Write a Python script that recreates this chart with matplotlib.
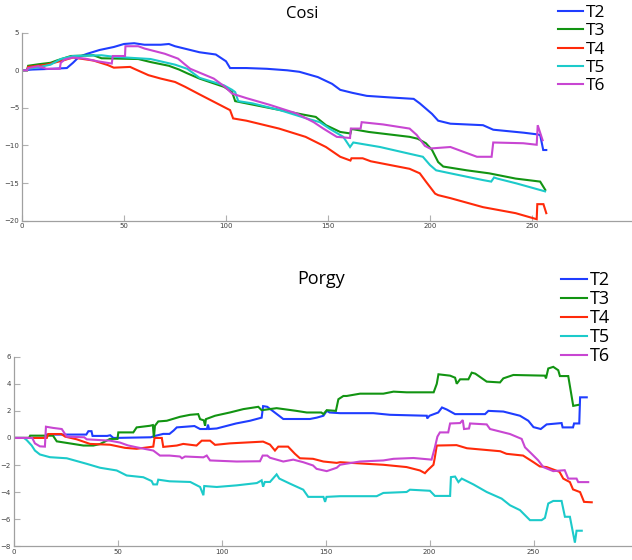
import matplotlib
matplotlib.use("Agg")
import matplotlib.pyplot as plt

# ---- Cosi: breakpoints (x, y) ----
cosi_t2 = [(0, 0), (5, 0.1), (15, 0.2), (22, 0.3), (25, 1.0), (28, 1.8), (32, 2.2), (38, 2.7), (45, 3.1),
           (50, 3.5), (55, 3.6), (60, 3.4), (68, 3.4), (72, 3.5), (75, 3.2), (81, 2.8), (87, 2.4), (95, 2.1),
           (100, 1.2), (102, 0.3), (110, 0.3), (120, 0.2), (130, 0.0), (136, -0.2), (145, -0.9), (152, -1.8),
           (156, -2.6), (162, -3.0), (169, -3.4), (180, -3.6), (192, -3.8), (195, -4.4), (201, -5.8),
           (204, -6.7), (210, -7.1), (226, -7.3), (231, -7.9), (246, -8.3), (252, -8.5), (254, -8.6),
           (255.5, -10.6), (257, -10.6)]
cosi_t3 = [(0, 0), (2.5, 0), (3, 0.6), (8, 0.8), (14, 1.0), (17, 1.3), (24, 1.9), (35, 2.0), (39, 1.6),
           (57, 1.5), (63, 1.1), (72, 0.6), (77, 0.1), (81, -0.4), (87, -1.1), (99, -2.2), (103, -2.9),
           (104.5, -4.1), (110, -4.4), (123, -5.1), (138, -5.9), (144, -6.2), (149, -7.3), (156, -8.2),
           (161, -8.4), (161.5, -7.8), (170, -8.2), (190, -8.85), (194, -9.1), (198, -9.7), (201, -10.6),
           (204, -12.2), (206.5, -12.8), (218, -13.3), (229, -13.7), (242, -14.4), (254, -14.8), (256.5, -15.9)]
cosi_t4 = [(0, 0), (2.5, 0), (3, 0.45), (12, 0.75), (20, 1.3), (25, 1.7), (30, 1.5), (35, 1.3), (42, 0.7),
           (45, 0.35), (53, 0.45), (55, 0.2), (62, -0.65), (68, -1.1), (75, -1.55), (80, -2.2), (87, -3.2),
           (97, -4.6), (102, -5.3), (103.5, -6.4), (110, -6.7), (126, -7.75), (139, -8.85), (149, -10.2),
           (156, -11.5), (161, -12.0), (161.5, -11.7), (167, -11.7), (171, -12.1), (190, -13.1), (195, -13.7),
           (198, -14.8), (202.5, -16.4), (204, -16.6), (210, -17.0), (226, -18.2), (242, -19.0),
           (252.3, -19.8), (252.6, -17.8), (255.6, -17.8), (257, -19.0)]
cosi_t5 = [(0, 0), (2.5, 0), (3, 0.2), (8, 0.4), (14, 0.75), (19, 1.5), (25, 1.9), (39, 2.0), (45, 1.8),
           (63, 1.5), (75, 0.75), (81, 0.2), (87, -1.0), (99, -2.0), (103, -2.6), (104.5, -2.9), (106, -4.1),
           (113, -4.4), (126.5, -5.3), (139.5, -6.4), (146, -6.9), (151, -7.8), (157.5, -8.85),
           (160.8, -10.2), (162.4, -9.6), (175.5, -10.2), (190, -11.1), (196.5, -11.5), (200, -12.6),
           (203, -13.3), (210, -13.7), (226, -14.6), (230, -14.8), (231.4, -14.25), (233, -14.4),
           (242.5, -15.05), (256.4, -16.1)]
cosi_t6 = [(0, 0), (2.5, 0), (3, 0.3), (8, 0.55), (11, 0.3), (12, 0.2), (18.5, 0.2), (19, 1.0), (21, 1.45),
           (25, 1.7), (31, 1.55), (37, 1.2), (44, 0.9), (44.5, 1.9), (50.5, 1.9), (50.7, 3.2), (57, 3.2),
           (60, 2.9), (70, 2.2), (76.5, 1.55), (80, 0.75), (82.5, 0.2), (94, -1.1), (99.5, -2.2), (103, -3.1),
           (110, -3.7), (121.5, -4.6), (134.7, -5.75), (143, -6.9), (147.7, -7.75), (154.3, -8.85),
           (160.8, -9.0), (161.2, -7.75), (166, -7.75), (166.5, -6.9), (177, -7.2), (190, -7.75),
           (193.5, -8.6), (197.5, -10.05), (200, -10.4), (210, -10.2), (223, -11.5), (230.2, -11.5),
           (231, -9.6), (245.7, -9.7), (252.3, -9.9), (252.8, -7.3), (255.2, -9.3)]

# ---- Porgy ----
porgy_t2 = [(0, 0), (15, 0), (16, 0.25), (35, 0.25), (36, 0.5), (37.5, 0.5), (38, 0.15), (45, 0.15),
            (46.5, 0.2), (48, 0.0), (66, 0.05), (68, 0.15), (72, 0.3), (75, 0.3), (77, 0.55), (78.5, 0.78),
            (87, 0.88), (89.7, 0.66), (93, 0.66), (93.5, 0.98), (94, 0.66), (97.7, 0.7), (107, 1.07),
            (113.7, 1.27), (119.3, 1.5), (120, 2.35), (122, 2.3), (125, 1.95), (129.7, 1.4), (142.5, 1.4),
            (145.8, 1.5), (149, 1.64), (150.6, 2.0), (152, 1.88), (157, 1.83), (173, 1.83), (181, 1.71),
            (198.7, 1.64), (198.9, 1.44), (200, 1.64), (204.2, 1.88), (206, 2.25), (208.3, 2.1),
            (212.3, 1.76), (226.7, 1.76), (228.3, 2.0), (235.5, 1.95), (243.5, 1.64), (247.5, 1.27),
            (250, 0.8), (253.5, 0.66), (256.3, 1.0), (263.5, 1.1), (264, 0.78), (269, 0.78), (269.5, 1.07),
            (272, 1.07), (272.4, 3.0), (275.6, 3.0)]
porgy_t3 = [(0, 0), (7.5, 0), (8, 0.17), (19, 0.17), (20.8, -0.25), (27, -0.4), (33.6, -0.56), (38.4, -0.56),
            (41.6, -0.45), (46.4, -0.07), (50, -0.07), (50.4, 0.41), (57.6, 0.41), (59.2, 0.78), (65.6, 0.9),
            (67, 0.95), (67.5, 0.0), (68, 0.9), (69.6, 1.22), (73.7, 1.27), (80, 1.56), (84.9, 1.71),
            (88.8, 1.76), (89.7, 1.39), (91.5, 1.3), (92.1, 0.9), (92.5, 1.39), (96.9, 1.64), (104, 1.88),
            (110.5, 2.13), (117.7, 2.3), (119.3, 2.05), (126.5, 2.2), (136, 2.0), (141, 1.88), (148, 1.88),
            (149, 1.76), (150.6, 2.05), (155, 2.0), (156.2, 2.86), (158.6, 3.1), (160.2, 3.1), (166.6, 3.27),
            (177.8, 3.27), (182.7, 3.42), (189, 3.37), (202, 3.37), (203.5, 4.0), (204.3, 4.7), (209.9, 4.6),
            (212.3, 4.45), (213.1, 4.0), (214.7, 4.33), (218.7, 4.33), (220.3, 4.82), (222, 4.75),
            (227.5, 4.16), (233.9, 4.1), (235.5, 4.4), (240.3, 4.65), (255.5, 4.6), (256, 4.4), (257.1, 5.13),
            (259.5, 5.25), (261.9, 5.0), (262.7, 4.57), (266.7, 4.57), (269.1, 2.37), (271.5, 2.44)]
porgy_t4 = [(0, 0), (16, 0), (16.7, 0.29), (23, 0.29), (24.8, 0.1), (30.4, -0.1), (36.8, -0.44), (46.4, -0.5),
            (53.6, -0.73), (59.2, -0.8), (67.2, -0.64), (67.8, 0.0), (71.3, 0.0), (72, -0.66), (78.5, -0.56),
            (81.6, -0.44), (88, -0.56), (90.5, -0.2), (94.5, -0.2), (96.9, -0.51), (104, -0.4), (120, -0.27),
            (123.3, -0.49), (125.7, -0.93), (127.3, -0.64), (132, -0.64), (135.3, -1.17), (137.7, -1.5),
            (144, -1.54), (149, -1.74), (155.4, -1.84), (157, -1.79), (169.8, -1.91), (177.8, -1.98),
            (189, -2.15), (195.4, -2.4), (197.8, -2.6), (199, -2.4), (201.9, -1.98), (202.5, -1.5),
            (203.5, -0.56), (213, -0.53), (218, -0.76), (234, -0.98), (237, -1.17), (245, -1.3), (250, -1.79),
            (253, -2.1), (256.3, -2.15), (262.5, -2.5), (264.3, -3.0), (267.5, -3.26), (269, -3.8),
            (272.4, -4.0), (274.3, -4.72), (278, -4.75)]
porgy_t5 = [(0, 0), (5, 0), (6.3, -0.15), (8.75, -0.56), (10.3, -0.93), (12.7, -1.22), (17.5, -1.42),
            (25.6, -1.5), (35.2, -1.91), (41.6, -2.2), (49.6, -2.4), (54.4, -2.77), (62.4, -2.9), (66.4, -3.18),
            (67.2, -3.43), (69, -3.43), (69.6, -3.08), (75, -3.2), (85, -3.25), (89.7, -3.62), (91.3, -4.23),
            (91.7, -3.55), (97.7, -3.62), (107.3, -3.5), (117, -3.33), (119.3, -3.13), (120, -3.6),
            (120.8, -3.25), (123.3, -3.25), (126.5, -2.69), (127.8, -3.0), (133, -3.38), (139.3, -3.82),
            (141.7, -4.35), (149, -4.35), (149.8, -4.72), (150.5, -4.35), (157, -4.3), (174.6, -4.3),
            (177.8, -4.06), (189, -3.99), (190.6, -3.82), (200.2, -3.9), (202.6, -4.28), (209.9, -4.28),
            (210.3, -2.89), (212.3, -2.85), (213.9, -3.26), (215.5, -3.0), (221.1, -3.43), (227.5, -3.99),
            (234.7, -4.48), (238.7, -4.97), (243.5, -5.33), (248.3, -6.07), (253.9, -6.07), (255.5, -5.9),
            (257.1, -4.84), (259.5, -4.65), (263.5, -4.65), (265.1, -5.82), (267.5, -5.82), (269.9, -7.73),
            (270.7, -6.85), (273.2, -6.85)]
porgy_t6 = [(0, 0), (9, 0), (10.3, -0.4), (12.7, -0.62), (15.1, -0.64), (15.6, 0.83), (19.1, 0.74),
            (23.2, 0.66), (25.6, 0.1), (34, 0.05), (35.2, -0.1), (46.4, -0.2), (51.2, -0.34), (55, -0.55),
            (59.2, -0.69), (67.2, -0.93), (70.4, -1.3), (75, -1.3), (80, -1.37), (81, -1.5), (82.5, -1.37),
            (91.3, -1.43), (92.9, -1.3), (94.5, -1.66), (107.3, -1.74), (118.5, -1.72), (119.8, -1.3),
            (122, -1.3), (123.3, -1.46), (129.7, -1.74), (134.5, -1.6), (139.3, -1.79), (144, -2.03),
            (145.7, -2.28), (150.6, -2.45), (155.4, -2.2), (157, -1.98), (160, -1.9), (166.6, -1.74),
            (177.8, -1.66), (182.7, -1.54), (192.3, -1.48), (201, -1.6), (202.6, -0.69), (203.8, 0.1),
            (205, 0.41), (209, 0.41), (209.9, 1.07), (214.7, 1.1), (216, 1.32), (216.6, 0.66), (219, 0.7),
            (219.5, 1.07), (227.5, 1.0), (229.1, 0.66), (238.7, 0.29), (244.3, -0.07), (245.9, -0.69),
            (249.1, -1.17), (252.3, -1.66), (254.7, -2.15), (259.5, -2.45), (265, -2.38), (266.7, -3.0),
            (270.7, -3.0), (271.5, -3.26), (276.3, -3.26)]

labels = ["T2", "T3", "T4", "T5", "T6"]
colors = ["#1f3dff", "#129412", "#ff2a0a", "#1ccaca", "#c846d2"]
x_ticks = [0, 50, 100, 150, 200, 250]

fig = plt.figure(figsize=(6.32, 5.6), dpi=100)
W, H = 632.0, 560.0


def make_axes(left, bottom, right, top, xmax, ylim, yticks, series, title, title_xy, title_size,
              leg_xy, leg_size, leg_space):
    ax = fig.add_axes([left / W, 1 - bottom / H, (right - left) / W, (bottom - top) / H])
    for pts, lab, c in zip(series, labels, colors):
        xs = [p[0] for p in pts]
        ys = [p[1] for p in pts]
        ax.plot(xs, ys, color=c, lw=1.5, label=lab, solid_joinstyle="miter")
    ax.set_xlim(0, xmax)
    ax.set_ylim(*ylim)
    ax.set_xticks(x_ticks)
    ax.set_yticks(yticks)
    for s in ["top", "right"]:
        ax.spines[s].set_visible(False)
    for s in ["left", "bottom"]:
        ax.spines[s].set_color("#a0a0a0")
        ax.spines[s].set_linewidth(0.9)
    ax.tick_params(direction="in", length=4, width=0.8, color="#b0b0b0",
                   labelsize=5, labelcolor="#404040", pad=2)
    fig.text(title_xy[0] / W, 1 - title_xy[1] / H, title, ha="center", va="baseline",
             fontsize=title_size, family="Open Sans")
    fig.legend(handles=ax.get_lines(), labels=labels, loc="upper left",
               bbox_to_anchor=(leg_xy[0] / W, 1 - leg_xy[1] / H), frameon=False,
               prop={"family": "Open Sans", "size": leg_size}, handlelength=1.45,
               handletextpad=0.15, labelspacing=leg_space, borderpad=0, borderaxespad=0)
    return ax


make_axes(22, 220.7, 632, 32.7, (632 - 22) / 2.04, (-20, 5), [-20, -15, -10, -5, 0, 5],
          [cosi_t2, cosi_t3, cosi_t4, cosi_t5, cosi_t6], "Cosi", (302, 18.3), 12,
          (558, 5), 12.5, 0.12)
make_axes(13.5, 546.3, 632, 356.7, (632 - 13.5) / 2.08, (-8, 6), [-8, -6, -4, -2, 0, 2, 4, 6],
          [porgy_t2, porgy_t3, porgy_t4, porgy_t5, porgy_t6], "Porgy", (321, 283.7), 13,
          (560.5, 271), 13, 0.06)

fig.savefig("out.png", dpi=100)
